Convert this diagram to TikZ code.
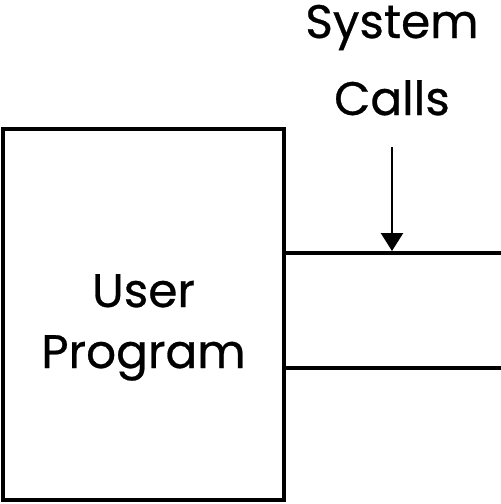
\documentclass[tikz,border=0pt]{standalone}
\usepackage{fontspec}
\setmainfont{Poppins}[FakeBold=0.6]
\usetikzlibrary{arrows.meta}
\begin{document}
\begin{tikzpicture}[x=1pt,y=-1pt,
  lbl/.style={font=\fontsize{47}{47}\selectfont, anchor=base, inner sep=0pt},
  boxst/.style={draw, line width=4.5pt, minimum width=281pt, minimum height=371pt, inner sep=0pt},
  wire/.style={line width=4.5pt},
  callarrow/.style={line width=2.5pt, -{Triangle[length=18pt,width=22pt]}}]
\useasboundingbox (0,0) rectangle (501,504);
\node[boxst] (prog) at (143.5,314.5) {};
\node[lbl] (u1) at (143.5,307) {User};
\node[lbl] (u2) at (143.5,368) {Program};
\node[lbl] (s1) at (392,38) {System};
\node[lbl] (s2) at (392,115) {Calls};
\coordinate (r1) at (501,253);
\coordinate (r2) at (501,368);
\coordinate (atop) at (392,147);
\coordinate (atip) at (392,251);
\draw[wire] (prog.east |- r1) -- (r1);
\draw[wire] (prog.east |- r2) -- (r2);
\draw[callarrow] (atop) -- (atip);
\end{tikzpicture}
\end{document}
